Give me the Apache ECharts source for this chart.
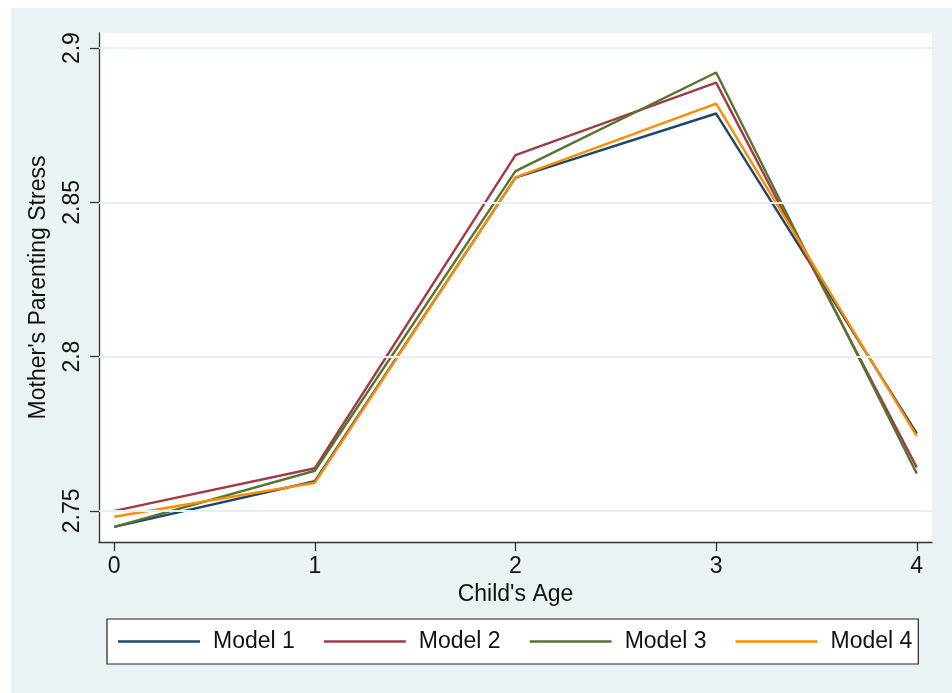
<!DOCTYPE html>
<html>
<head>
<meta charset="utf-8">
<script src="https://cdn.jsdelivr.net/npm/echarts@6/dist/echarts.min.js"></script>
<style>
  html, body { margin: 0; padding: 0; background: #ffffff; }
  #panel { position: absolute; left: 11px; top: 8px; right: 0; bottom: 0; background: #EAF2F3; }
  #chart { position: absolute; left: 0; top: 0; width: 952px; height: 693px; }
</style>
</head>
<body>
<div id="panel"></div>
<div id="chart"></div>
<script>
// Child's age (years) on the horizontal axis
const ages = [0, 1, 2, 3, 4];
// Predicted mother's parenting stress for each model
const model1 = [2.7448, 2.7596, 2.8580, 2.8788, 2.7751];
const model2 = [2.7500, 2.7638, 2.8653, 2.8888, 2.7641];
const model3 = [2.7448, 2.7630, 2.8601, 2.8921, 2.7621];
const model4 = [2.7481, 2.7591, 2.8581, 2.8820, 2.7742];
const seriesNames = ['Model 1', 'Model 2', 'Model 3', 'Model 4'];
// Labelled ticks on the vertical axis
const yTicks = [2.75, 2.8, 2.85, 2.9];

const colors = ['#1A476F', '#A33B46', '#55752F', '#FF8C00'];
const FONT = '"Liberation Sans", Arial, sans-serif';
const TXT = '#111111';

const pairs = vals => ages.map((a, i) => [a, vals[i]]);
const lineSeries = [model1, model2, model3, model4].map((vals, k) => ({
  name: seriesNames[k],
  type: 'line',
  data: pairs(vals),
  symbol: 'none',
  z: 3,
  lineStyle: { color: colors[k], width: 2.4 },
  itemStyle: { color: colors[k] }
}));

const chart = echarts.init(document.getElementById('chart'), null, { renderer: 'canvas' });
chart.setOption({
  backgroundColor: 'transparent',
  animation: false,
  textStyle: { fontFamily: FONT },
  grid: {
    left: 99, top: 33, width: 833, height: 509,
    show: true, backgroundColor: '#ffffff', borderWidth: 0
  },
  xAxis: {
    type: 'value',
    min: -0.076, max: 4.076,
    name: "Child's Age",
    nameLocation: 'middle',
    nameGap: 35,
    nameTextStyle: { fontSize: 23, color: TXT, fontFamily: FONT },
    axisLine: { show: true, onZero: false, lineStyle: { color: '#333333', width: 1.3 } },
    axisTick: { show: true, length: 9, customValues: ages, lineStyle: { color: '#333333', width: 1.3 } },
    axisLabel: { customValues: ages, fontSize: 23, color: TXT, margin: 13, fontFamily: FONT },
    splitLine: { show: false }
  },
  yAxis: {
    type: 'value',
    min: 2.7399, max: 2.9049,
    name: "Mother's Parenting Stress",
    nameLocation: 'middle',
    nameGap: 49,
    nameRotate: 90,
    nameTextStyle: { fontSize: 23, color: TXT, fontFamily: FONT },
    axisLine: { show: true, onZero: false, lineStyle: { color: '#333333', width: 1.3 } },
    axisTick: { show: true, length: 9, customValues: yTicks, lineStyle: { color: '#333333', width: 1.3 } },
    axisLabel: {
      customValues: yTicks, rotate: 90, fontSize: 23, color: TXT, margin: 15, fontFamily: FONT,
      formatter: v => String(+v.toFixed(2))
    },
    splitLine: { show: false }
  },
  legend: {
    data: seriesNames,
    left: 107, top: 619,
    orient: 'horizontal',
    backgroundColor: '#ffffff',
    borderColor: '#222222',
    borderWidth: 1.2,
    borderRadius: 0,
    padding: [11, 6, 11, 11],
    itemGap: 29,
    itemWidth: 82,
    itemHeight: 2.4,
    icon: 'rect',
    textStyle: { fontSize: 23, color: TXT, fontFamily: FONT, padding: [0, 0, 0, 8] }
  },
  series: [
    {
      name: 'gridlines',
      type: 'line',
      data: [],
      z: 1,
      silent: true,
      markLine: {
        silent: true,
        symbol: ['none', 'none'],
        label: { show: false },
        lineStyle: { color: '#E6EFF1', width: 2, type: 'solid' },
        data: yTicks.map(v => ({ yAxis: v }))
      }
    },
    ...lineSeries
  ]
});
</script>
</body>
</html>
